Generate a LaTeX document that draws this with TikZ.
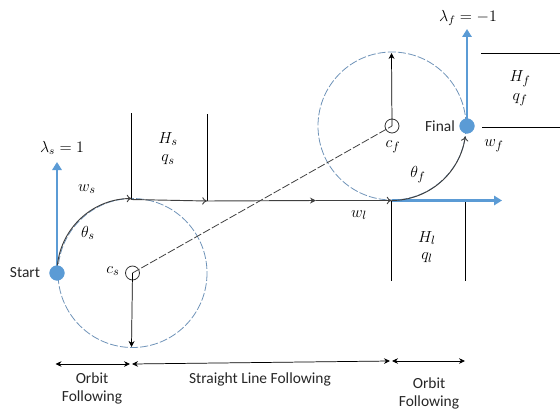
\documentclass[tikz,border=0pt]{standalone}
\usepackage{fontspec}
\usepackage{amsmath}
\setmainfont{Carlito}
\usetikzlibrary{arrows.meta}
\definecolor{dotblue}{HTML}{5B9BD5}
\definecolor{dashblue}{HTML}{6F93B8}
\definecolor{pathgray}{HTML}{3F3F3F}
\tikzset{
  txt/.style={inner sep=0pt,font=\fontsize{11.6}{13}\selectfont,text=black!85},
  eqn/.style={inner sep=0pt,font=\fontsize{12}{13}\selectfont,text=black},
  mth/.style={inner sep=0pt,font=\fontsize{13.2}{14}\selectfont,text=black},
  bigdot/.style={circle,fill=dotblue,draw=dotblue,minimum size=11pt,inner sep=0pt},
  centre/.style={circle,draw=black!80,fill=white,line width=0.6pt,minimum size=10.5pt,inner sep=0pt},
  orbit/.style={draw=dashblue,line width=0.6pt,dash pattern=on 6pt off 1.6pt},
  longdash/.style={draw=black!75,line width=0.6pt,dash pattern=on 6pt off 1.6pt},
  bluearrow/.style={draw=dotblue,line width=1.9pt,-{Triangle[length=6pt,width=7pt]}},
  thinline/.style={draw=black,line width=0.55pt},
  tracker/.style={draw=pathgray,line width=0.7pt},
  openhead/.style={-{To[length=3.6pt,width=5.6pt]}},
  solidhead/.style={-{Stealth[length=4.5pt,width=4.5pt]}},
  dimline/.style={draw=black,line width=0.55pt,{Stealth[length=4.5pt,width=4.2pt]}-{Stealth[length=4.5pt,width=4.2pt]}},
}
\begin{document}
\begin{tikzpicture}[x=0.75pt,y=-0.75pt]
\useasboundingbox (0,0) rectangle (560,410);
% orbit circles
\coordinate (csc) at (132.5,273);
\coordinate (cfc) at (392,126);
\draw[orbit] (csc) circle [radius=74.5];
\draw[orbit] (cfc) circle [radius=74];
% key points
\coordinate (wsp) at (131,199.5);
\coordinate (hsp) at (207,201);
\coordinate (wlp) at (391.5,200.5);
\coordinate (wmid) at (316,200.5);
\coordinate (sb) at (131.5,347);
\coordinate (ft) at (391.5,53);
\coordinate (lamsend) at (57,162);
\coordinate (lamfend) at (467,29);
\coordinate (lend) at (502,200.5);
\coordinate (startc) at (57,273);
\coordinate (finalc) at (467,126);
% centres
\node[centre] (cs) at (csc) {};
\node[centre] (cf) at (cfc) {};
\draw[longdash] (csc) -- (cfc);
\draw[thinline,solidhead] (csc) -- (sb);
\draw[thinline,solidhead] (cfc) -- (ft);
% reference frame lines
\coordinate (a1) at (131,113); \coordinate (a2) at (207,114);
\draw[thinline] (a1) -- (wsp);
\draw[thinline] (a2) -- (hsp);
\coordinate (b1) at (391.5,281); \coordinate (b2) at (465.5,281);
\coordinate (b3) at (465.5,200.5);
\draw[thinline] (wlp) -- (b1);
\draw[thinline] (b3) -- (b2);
\coordinate (c1) at (481,53); \coordinate (c2) at (560,53);
\coordinate (c3) at (482,127); \coordinate (c4) at (560,127);
\draw[thinline] (c1) -- (c2);
\draw[thinline] (c3) -- (c4);
% blue arrows
\draw[bluearrow] (startc) -- (lamsend);
\draw[bluearrow] (finalc) -- (lamfend);
\draw[bluearrow] (wlp) -- (lend);
% path
\draw[tracker,openhead] (startc) arc [start angle=180,end angle=270,radius=74.5];
\draw[tracker,openhead] (wsp) -- (hsp);
\draw[tracker,solidhead] (hsp) -- (wmid);
\draw[tracker,openhead] (wmid) -- (wlp);
\draw[tracker,openhead] (wlp) arc [start angle=90,end angle=8,radius=74.5];
% big dots
\node[bigdot] (start) at (startc) {};
\node[bigdot] (final) at (finalc) {};
% dimension lines
\coordinate (d1) at (55.5,364); \coordinate (d2) at (130,364);
\coordinate (d3) at (132,364); \coordinate (d4) at (390,361);
\coordinate (d5) at (392,361); \coordinate (d6) at (465,361);
\draw[dimline] (d1) -- (d2);
\draw[dimline] (d3) -- (d4);
\draw[dimline] (d5) -- (d6);
% labels
\node[txt] (tstart) at (25,273) {Start};
\node[txt] (tfinal) at (440,126) {Final};
\node[eqn] (ls) at (62,148) {$\lambda_s=1$};
\node[eqn] (lf) at (468,18) {$\lambda_f=-1$};
\node[mth] (ws) at (87,189) {$w_s$};
\node[mth] (ts) at (88,233) {$\theta_s$};
\node[mth] (tcs) at (113,271) {$c_s$};
\node[mth] (tcf) at (393,147) {$c_f$};
\node[mth] (hs) at (168,139) {$H_s$};
\node[mth] (qs) at (168,160) {$q_s$};
\node[mth] (wl) at (359,215) {$w_l$};
\node[mth] (hl) at (427,238) {$H_l$};
\node[mth] (ql) at (427,258) {$q_l$};
\node[mth] (hf) at (520,79) {$H_f$};
\node[mth] (qf) at (520,100) {$q_f$};
\node[mth] (wf) at (494,146) {$w_f$};
\node[mth] (tf) at (418,175) {$\theta_f$};
\node[txt] (o1) at (92,378) {Orbit};
\node[txt] (f1) at (92,397) {Following};
\node[txt] (sl) at (260,379) {Straight Line Following};
\node[txt] (o2) at (429,383) {Orbit};
\node[txt] (f2) at (429,402) {Following};
\end{tikzpicture}
\end{document}
